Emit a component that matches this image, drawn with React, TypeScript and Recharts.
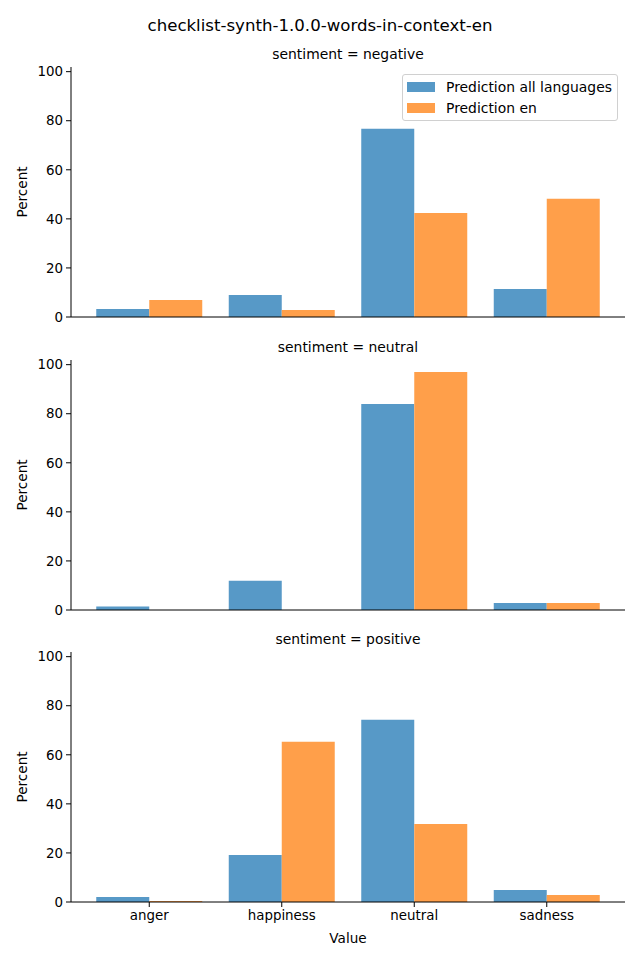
import { BarChart, Bar, XAxis, YAxis, Legend } from 'recharts';

const categories = ['anger', 'happiness', 'neutral', 'sadness'];
const sentiments = ['negative', 'neutral', 'positive'];

// Percent per category, one array per sentiment panel
const allLanguages = [
  [3.3, 9.0, 76.7, 11.4],
  [1.4, 11.9, 84.0, 2.9],
  [2.0, 19.2, 74.3, 4.9],
];
const english = [
  [6.9, 2.9, 42.4, 48.2],
  [0, 0, 97.0, 2.9],
  [0.4, 65.3, 31.8, 2.9],
];

const yTicks = [0, 20, 40, 60, 80, 100];

const BLUE = '#5799c7';
const ORANGE = '#ff9f4a';
const FONT = '"DejaVu Sans", sans-serif';

const PLOT_TOPS = [67, 360, 652];
const PLOT_H = 250;

const YLabel = ({ viewBox }: any) => {
  const cy = viewBox.y + viewBox.height / 2;
  return (
    <text
      x={22}
      y={cy}
      transform={`rotate(-90 22 ${cy})`}
      textAnchor="middle"
      dominantBaseline="central"
      fontSize={13.6}
      fontFamily={FONT}
      fill="#000"
    >
      Percent
    </text>
  );
};

const LegendBox = ({ payload }: any) => (
  <div
    style={{
      border: '1px solid #d0d0d0',
      borderRadius: 3,
      background: 'rgba(255,255,255,0.8)',
      padding: '1px 5px 2px 4px',
      fontFamily: FONT,
      fontSize: 13.9,
      whiteSpace: 'nowrap',
    }}
  >
    {(payload || []).map((p: any) => (
      <div key={p.value} style={{ display: 'flex', alignItems: 'center', height: 21 }}>
        <span style={{ width: 28, height: 10, background: p.color, marginRight: 11 }} />
        <span>{p.value}</span>
      </div>
    ))}
  </div>
);

function Panel({ index }: { index: number }) {
  const bottom = index === 2;
  const data = categories.map((c, i) => ({
    category: c,
    all: allLanguages[index][i],
    en: english[index][i],
  }));
  const xHeight = bottom ? 45 : 30;
  return (
    <div style={{ position: 'absolute', left: 0, top: PLOT_TOPS[index] - 10 }}>
      <BarChart
        width={640}
        height={10 + PLOT_H + xHeight}
        data={data}
        margin={{ top: 10, right: 15, bottom: 0, left: 0 }}
        barCategoryGap="10%"
        barGap={0}
      >
        <XAxis
          dataKey="category"
          height={xHeight}
          padding={{ left: 12, right: 12 }}
          tickSize={5}
          tickMargin={3}
          stroke="#000"
          tick={bottom ? { fill: '#000', fontSize: 13.4, fontFamily: FONT } : false}
          label={
            bottom
              ? { value: 'Value', position: 'insideBottom', offset: 4, fill: '#000', fontSize: 13.6, fontFamily: FONT }
              : undefined
          }
        />
        <YAxis
          width={71}
          domain={[0, 101.9]}
          ticks={yTicks}
          allowDataOverflow
          tickSize={5}
          tickMargin={3}
          stroke="#000"
          tick={{ fill: '#000', fontSize: 13.4, fontFamily: FONT }}
          label={<YLabel />}
        />
        <Bar dataKey="all" name="Prediction all languages" fill={BLUE} isAnimationActive={false} />
        <Bar dataKey="en" name="Prediction en" fill={ORANGE} isAnimationActive={false} />
        {index === 0 && (
          <Legend
            layout="vertical"
            align="center"
            verticalAlign="middle"
            content={<LegendBox />}
            wrapperStyle={{ left: 402, top: 17, width: 'auto' }}
          />
        )}
      </BarChart>
      <div
        style={{
          position: 'absolute',
          left: 71,
          width: 554,
          top: -11,
          textAlign: 'center',
          fontFamily: FONT,
          fontSize: 13.9,
        }}
      >
        sentiment = {sentiments[index]}
      </div>
    </div>
  );
}

export default function App() {
  return (
    <div style={{ position: 'absolute', left: 0, top: 0, width: 640, height: 960, background: '#fff' }}>
      <div
        style={{
          position: 'absolute',
          top: 16,
          width: 640,
          textAlign: 'center',
          fontFamily: FONT,
          fontSize: 16.6,
        }}
      >
        checklist-synth-1.0.0-words-in-context-en
      </div>
      {[0, 1, 2].map((i) => (
        <Panel key={i} index={i} />
      ))}
    </div>
  );
}
